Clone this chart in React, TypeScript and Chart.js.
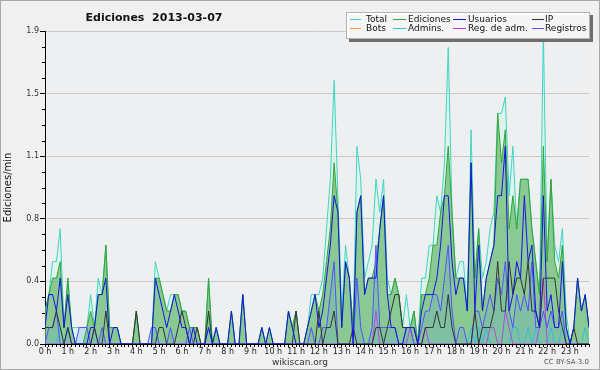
import React, { useEffect, useRef } from 'react';
import { Chart, registerables } from 'chart.js';

Chart.register(...registerables);

// 10-minute slots, 6 per hour, 0:00 .. 23:50
const SLOTS_PER_HOUR = 6;
const slotCount = 144;
const yTickValues = [0, 0.38, 0.76, 1.14, 1.52, 1.9];
const yMinorStep = 0.095;
const yMax = 1.9;

const seriesLabels = ['Total', 'Ediciones', 'Usuarios', 'IP', 'Bots', 'Admins.', 'Reg. de adm.', 'Registros'];

const total = [
  0.2, 0.3, 0.5, 0.5, 0.7, 0.1,
  0.4, 0.1, 0.1, 0.1, 0.1, 0.1,
  0.3, 0.1, 0.4, 0.3, 0.6, 0.1,
  0.1, 0.1, 0, 0, 0, 0,
  0.2, 0, 0, 0, 0, 0.5,
  0.4, 0.3, 0.2, 0.3, 0.3, 0.3,
  0.2, 0.2, 0.1, 0.1, 0.1, 0,
  0, 0.4, 0, 0.1, 0, 0,
  0, 0.2, 0, 0, 0.3, 0,
  0, 0, 0, 0.1, 0, 0.1,
  0, 0, 0, 0, 0.2, 0.1,
  0.2, 0, 0, 0.1, 0.3, 0.3,
  0.3, 0.4, 0.7, 1.0, 1.6, 0.9,
  0.2, 0.6, 0.4, 0.1, 1.2, 1.0,
  0.4, 0.5, 0.6, 1.0, 0.8, 1.0,
  0.4, 0.3, 0.4, 0.3, 0.1, 0.3,
  0.1, 0.2, 0, 0.4, 0.4, 0.6,
  0.6, 0.9, 0.8, 1.1, 1.8, 0.8,
  0.4, 0.5, 0.5, 0.2, 1.3, 0.4,
  0.7, 0.4, 0.5, 0.7, 0.8, 1.4,
  1.4, 1.5, 0.9, 1.2, 0.7, 1.0,
  1.0, 1.0, 0.7, 0.5, 0.3, 1.9,
  0.5, 1.0, 0.6, 0.5, 0.7, 0.2,
  0, 0.1, 0.4, 0.2, 0.3, 0.1,
];

const ediciones = [
  0.2, 0.3, 0.4, 0.4, 0.5, 0.1,
  0.4, 0.1, 0, 0, 0, 0.1,
  0.2, 0.1, 0.3, 0.3, 0.6, 0.1,
  0.1, 0.1, 0, 0, 0, 0,
  0.2, 0, 0, 0, 0, 0.4,
  0.4, 0.3, 0.2, 0.2, 0.3, 0.3,
  0.2, 0.2, 0.1, 0.1, 0.1, 0,
  0, 0.4, 0, 0.1, 0, 0,
  0, 0.2, 0, 0, 0.3, 0,
  0, 0, 0, 0.1, 0, 0.1,
  0, 0, 0, 0, 0.2, 0.1,
  0.2, 0, 0, 0.1, 0.2, 0.3,
  0.2, 0.3, 0.5, 0.7, 1.1, 0.8,
  0.1, 0.5, 0.4, 0.1, 0.8, 0.9,
  0.3, 0.4, 0.4, 0.5, 0.7, 0.9,
  0.3, 0.3, 0.4, 0.3, 0.1, 0.1,
  0.1, 0.2, 0, 0.3, 0.3, 0.4,
  0.6, 0.6, 0.8, 0.9, 1.2, 0.8,
  0.4, 0.4, 0.4, 0.2, 1.1, 0.4,
  0.7, 0.2, 0.4, 0.5, 0.6, 1.4,
  1.1, 1.3, 0.7, 0.9, 0.7, 1.0,
  1.0, 1.0, 0.7, 0.5, 0.3, 1.2,
  0.5, 1.0, 0.5, 0.4, 0.6, 0.1,
  0, 0.1, 0.4, 0.2, 0.3, 0.1,
];

const usuarios = [
  0.1, 0.3, 0.3, 0.2, 0.4, 0.1,
  0.3, 0.1, 0, 0, 0, 0,
  0.1, 0.1, 0.3, 0.3, 0.4, 0,
  0.1, 0.1, 0, 0, 0, 0,
  0, 0, 0, 0, 0, 0.4,
  0.3, 0.2, 0.1, 0.2, 0.3, 0.2,
  0.1, 0.1, 0, 0.1, 0, 0,
  0, 0.1, 0, 0.1, 0, 0,
  0, 0.2, 0, 0, 0.3, 0,
  0, 0, 0, 0.1, 0, 0.1,
  0, 0, 0, 0, 0.2, 0.1,
  0, 0, 0, 0.1, 0.2, 0.3,
  0.1, 0.2, 0.4, 0.6, 0.9, 0.8,
  0.1, 0.5, 0.4, 0, 0.8, 0.9,
  0.3, 0.4, 0.4, 0.4, 0.7, 0.9,
  0.3, 0.1, 0.1, 0, 0, 0.1,
  0.1, 0.1, 0, 0.2, 0.3, 0.3,
  0.3, 0.4, 0.6, 0.9, 0.9, 0.5,
  0.3, 0.4, 0.4, 0.2, 1.1, 0.2,
  0.6, 0.2, 0.4, 0.5, 0.6, 0.9,
  0.9, 1.2, 0.2, 0.3, 0.5, 0.4,
  0.9, 0.5, 0.6, 0.2, 0.1, 0.9,
  0.2, 0.3, 0.1, 0.1, 0.5, 0.1,
  0, 0.1, 0.4, 0.2, 0.3, 0.1,
];

const ip = [
  0.1, 0.1, 0.1, 0.2, 0.1, 0,
  0.1, 0, 0, 0, 0, 0,
  0, 0.1, 0, 0, 0.2, 0,
  0, 0, 0, 0, 0, 0,
  0.2, 0, 0, 0, 0, 0,
  0.1, 0.1, 0, 0, 0, 0.1,
  0.2, 0.1, 0, 0, 0.1, 0,
  0, 0.2, 0, 0, 0, 0,
  0, 0, 0, 0, 0, 0,
  0, 0, 0, 0, 0, 0,
  0, 0, 0, 0, 0, 0,
  0.2, 0, 0, 0, 0, 0,
  0.2, 0, 0.1, 0.1, 0.2, 0,
  0, 0, 0, 0.1, 0, 0,
  0, 0, 0, 0.1, 0.1, 0,
  0.1, 0.2, 0.3, 0.3, 0.1, 0.1,
  0.1, 0.1, 0, 0, 0.1, 0.1,
  0.1, 0.2, 0.1, 0.1, 0.3, 0.1,
  0, 0, 0, 0, 0, 0.2,
  0, 0.1, 0.1, 0.1, 0.2, 0.5,
  0.2, 0.2, 0.5, 0.3, 0.4, 0.4,
  0.3, 0.5, 0.2, 0.2, 0.1, 0.4,
  0.4, 0.4, 0.4, 0.2, 0.1, 0,
  0, 0.1, 0, 0, 0, 0,
];

const bots = [
  0, 0, 0, 0, 0, 0,  0, 0, 0, 0, 0, 0,  0, 0, 0, 0, 0, 0,  0, 0, 0, 0, 0, 0,
  0, 0, 0, 0, 0, 0,  0, 0, 0, 0, 0, 0,  0, 0, 0, 0, 0, 0,  0, 0, 0, 0, 0, 0,
  0, 0, 0, 0, 0, 0,  0, 0, 0, 0, 0, 0,  0, 0, 0, 0, 0, 0,  0, 0, 0, 0, 0, 0,
  0, 0, 0, 0, 0, 0,  0, 0, 0, 0, 0, 0,  0, 0, 0, 0, 0, 0,  0, 0, 0, 0, 0, 0,
  0, 0, 0, 0, 0, 0,  0, 0, 0, 0, 0, 0,  0, 0, 0, 0, 0, 0,  0, 0, 0, 0, 0, 0,
  0, 0, 0, 0, 0, 0,  0, 0, 0, 0, 0, 0,  0, 0, 0, 0, 0, 0,  0, 0, 0, 0, 0, 0,
];

const admins = [
  0, 0, 0, 0, 0.1, 0,
  0.1, 0, 0, 0, 0, 0,
  0, 0, 0, 0, 0, 0,
  0, 0, 0, 0, 0, 0,
  0, 0, 0, 0, 0, 0,
  0, 0, 0, 0, 0, 0,
  0, 0, 0, 0, 0, 0,
  0, 0.1, 0, 0, 0, 0,
  0, 0, 0, 0, 0, 0,
  0, 0, 0, 0, 0, 0,
  0, 0, 0, 0, 0, 0,
  0, 0, 0, 0, 0, 0,
  0, 0, 0, 0, 0, 0,
  0, 0, 0, 0, 0, 0,
  0, 0, 0, 0, 0, 0,
  0, 0, 0, 0, 0, 0,
  0, 0, 0, 0, 0, 0,
  0, 0, 0, 0, 0, 0,
  0, 0, 0, 0, 0.1, 0,
  0.1, 0, 0.1, 0, 0, 0,
  0, 0, 0, 0.1, 0.1, 0,
  0, 0.1, 0, 0.1, 0, 0,
  0, 0.1, 0, 0, 0.1, 0.1,
  0, 0, 0, 0, 0.1, 0,
];

const regAdm = [
  0, 0, 0, 0, 0, 0,  0, 0, 0, 0, 0, 0,  0, 0, 0, 0, 0, 0,  0, 0, 0, 0, 0, 0,
  0, 0, 0, 0, 0, 0,  0, 0, 0, 0, 0, 0,  0, 0, 0, 0, 0, 0,  0, 0, 0, 0, 0, 0,
  0, 0, 0, 0, 0, 0,  0, 0, 0, 0, 0, 0,  0, 0, 0, 0, 0, 0,  0, 0, 0, 0, 0, 0,
  0, 0, 0, 0, 0, 0,  0, 0, 0, 0, 0, 0,  0, 0, 0, 0.2, 0, 0,  0, 0, 0, 0, 0, 0,
  0.1, 0, 0, 0, 0.1, 0,  0, 0, 0, 0, 0, 0,  0, 0, 0, 0, 0, 0,  0, 0, 0, 0.1, 0.1, 0,
  0, 0.2, 0.1, 0, 0, 0,  0, 0, 0, 0, 0.1, 0.4,  0, 0, 0, 0, 0, 0,  0, 0, 0, 0, 0, 0,
];

const registros = [
  0, 0.1, 0.1, 0.2, 0, 0,
  0.1, 0, 0, 0.1, 0.1, 0.1,
  0, 0.1, 0, 0.1, 0, 0,
  0, 0, 0, 0, 0, 0,
  0, 0, 0, 0, 0.1, 0.1,
  0, 0, 0, 0.1, 0, 0,
  0, 0, 0.1, 0, 0, 0,
  0, 0, 0, 0, 0, 0,
  0, 0, 0, 0, 0, 0,
  0, 0, 0, 0, 0, 0,
  0, 0, 0, 0, 0, 0,
  0, 0, 0, 0, 0.1, 0,
  0, 0.1, 0.1, 0.3, 0.5, 0,
  0, 0, 0, 0, 0.4, 0.1,
  0, 0, 0.1, 0.6, 0.1, 0.1,
  0.1, 0.1, 0.1, 0, 0, 0.1,
  0.1, 0, 0, 0.1, 0.2, 0.2,
  0.3, 0.3, 0.2, 0.4, 0.6, 0.2,
  0, 0.1, 0.1, 0, 0, 0.2,
  0.2, 0.1, 0.2, 0.3, 0.2, 0.4,
  0.3, 0.5, 0.2, 0.1, 0.3, 0.2,
  0.3, 0.2, 0.5, 0.1, 0.1, 0.2,
  0.1, 0.2, 0.1, 0.1, 0.2, 0,
  0, 0, 0, 0, 0, 0,
];

const seriesValues = [total, ediciones, usuarios, ip, bots, admins, regAdm, registros];
const lineColors = ['#3ed6c4', '#35a535', '#1414e0', '#333333', '#ff9a2e', '#2ec4dc', '#cc33dd', '#5252ff'];
const fillColors: (string | null)[] = [
  'rgba(203,248,230,0.45)',
  'rgba(56,160,60,0.5)',
  null, null, null, null, null,
  'rgba(86,160,218,0.22)',
];
const drawOrder = [10, 9, 1, 2, 7, 6, 5, 3];

const FONT = '"DejaVu Sans", "Noto Sans", sans-serif';

const decorPlugin = {
  id: 'decor',
  beforeDraw(chart: any) {
    const { ctx, chartArea: a, width, height } = chart;
    ctx.save();
    ctx.fillStyle = '#f0f0f0';
    ctx.fillRect(0, 0, width, height);
    ctx.strokeStyle = '#a8a8a8';
    ctx.lineWidth = 1;
    ctx.strokeRect(0.5, 0.5, width - 1, height - 1);
    ctx.fillStyle = '#edeff1';
    ctx.fillRect(a.left, a.top, a.right - a.left, a.bottom - a.top);
    ctx.restore();
  },
  afterDraw(chart: any) {
    const { ctx, chartArea: a } = chart;
    const ys = chart.scales.y;
    ctx.save();
    // minor y ticks
    ctx.strokeStyle = '#000';
    ctx.lineWidth = 1;
    ctx.beginPath();
    const n = Math.round(yMax / yMinorStep);
    for (let k = 0; k <= n; k++) {
      if (k % 4 === 0) continue;
      const py = Math.round(ys.getPixelForValue(k * yMinorStep)) + 0.5;
      ctx.moveTo(a.left - 3, py);
      ctx.lineTo(a.left, py);
    }
    ctx.stroke();

    // title
    ctx.fillStyle = '#111';
    ctx.font = 'bold 11px ' + FONT;
    ctx.textAlign = 'center';
    ctx.textBaseline = 'alphabetic';
    ctx.fillText('Ediciones  2013-03-07', 154, 21);

    // legend box
    const bx = 346, by = 12, bw = 244, bh = 27;
    ctx.fillStyle = '#6e6e6e';
    ctx.fillRect(bx + 3, by + 3, bw, bh);
    ctx.fillStyle = 'rgba(255,255,255,0.93)';
    ctx.fillRect(bx, by, bw, bh);
    ctx.strokeStyle = '#b4b4b4';
    ctx.strokeRect(bx + 0.5, by + 0.5, bw - 1, bh - 1);

    const lineX = [[350, 361], [393, 406], [453, 466], [532, 544]];
    const textX = [366, 408, 468, 545];
    const rowY = [19.5, 28.5];
    ctx.font = '9px ' + FONT;
    ctx.textAlign = 'left';
    ctx.textBaseline = 'middle';
    const dsets = chart.data.datasets;
    for (let i = 0; i < dsets.length; i++) {
      const row = Math.floor(i / 4);
      const col = i % 4;
      const y = rowY[row];
      ctx.strokeStyle = dsets[i].borderColor;
      ctx.lineWidth = 1;
      ctx.beginPath();
      ctx.moveTo(lineX[col][0], y);
      ctx.lineTo(lineX[col][1], y);
      ctx.stroke();
      ctx.fillStyle = '#111';
      ctx.fillText(dsets[i].label, textX[col], y);
    }

    // footer
    ctx.fillStyle = '#333';
    ctx.font = '9px ' + FONT;
    ctx.textAlign = 'center';
    ctx.textBaseline = 'alphabetic';
    ctx.fillText('wikiscan.org', 300, 365);
    ctx.fillStyle = '#555';
    ctx.font = '7px ' + FONT;
    ctx.textAlign = 'right';
    ctx.fillText('CC BY-SA 3.0', 589, 364);
    ctx.restore();
  },
};

export default function App() {
  const ref = useRef<HTMLCanvasElement>(null);

  useEffect(() => {
    const canvas = ref.current;
    if (!canvas) return;
    const slots = Array.from({ length: slotCount }, (_, i) => i);

    const datasets = seriesLabels.map((label, s) => ({
      label,
      data: seriesValues[s].map((v, i) => ({ x: slots[i], y: v })),
      borderColor: lineColors[s],
      backgroundColor: fillColors[s] || lineColors[s],
      fill: fillColors[s] ? 'origin' : false,
      borderWidth: 1,
      pointRadius: 0,
      tension: 0,
      order: drawOrder[s],
    }));

    const chart = new Chart(canvas, {
      type: 'line',
      data: { datasets: datasets as any },
      options: {
        responsive: false,
        animation: false,
        devicePixelRatio: 1,
        layout: { padding: { left: 0, top: 31, right: 11, bottom: 0 } },
        font: { family: FONT } as any,
        plugins: {
          legend: { display: false },
          title: { display: false },
          tooltip: { enabled: false },
        },
        scales: {
          x: {
            type: 'linear',
            min: 0,
            max: slotCount - 1,
            afterBuildTicks: (s: any) => {
              s.ticks = slots.map((v) => ({ value: v }));
            },
            afterFit: (s: any) => {
              s.height = 26;
            },
            ticks: {
              autoSkip: false,
              maxRotation: 0,
              padding: 0,
              color: '#222',
              font: { size: 8, family: FONT },
              callback: (v: any) => (Number(v) % SLOTS_PER_HOUR === 0 ? `${Number(v) / SLOTS_PER_HOUR} h` : ''),
            },
            grid: { drawOnChartArea: false, tickLength: 3, tickColor: '#000' },
            border: { color: '#000', width: 1 },
          },
          y: {
            min: 0,
            max: yMax,
            afterBuildTicks: (s: any) => {
              s.ticks = yTickValues.map((v) => ({ value: v }));
            },
            afterFit: (s: any) => {
              s.width = 45;
            },
            ticks: {
              padding: 1,
              color: '#333',
              font: { size: 8, family: FONT },
              callback: (v: any) => Number(v).toFixed(1),
            },
            grid: { color: '#c9c9c9', tickLength: 5, tickColor: '#000' },
            border: { color: '#000', width: 1 },
            title: {
              display: true,
              text: 'Ediciones/min',
              color: '#111',
              font: { size: 10, family: FONT },
              padding: { top: 2, bottom: 0 },
            },
          },
        },
      },
      plugins: [decorPlugin],
    });

    return () => chart.destroy();
  }, []);

  return (
    <div style={{ position: 'absolute', left: 0, top: 0, width: 600, height: 370 }}>
      <canvas ref={ref} width={600} height={370} style={{ display: 'block', width: 600, height: 370 }} />
    </div>
  );
}
